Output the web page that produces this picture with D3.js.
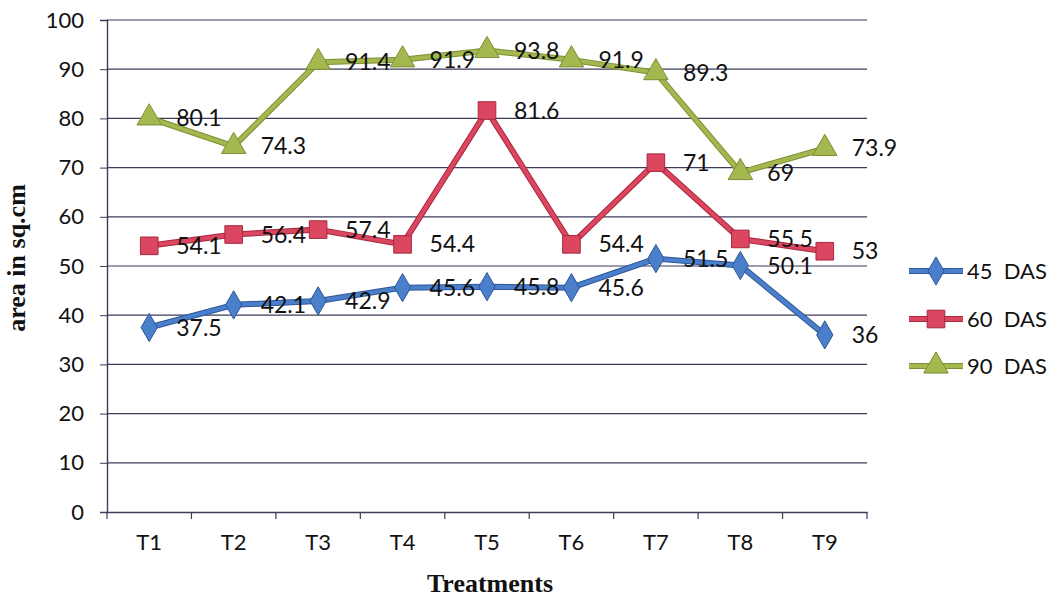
<!DOCTYPE html>
<html><head><meta charset="utf-8">
<script src="https://cdn.jsdelivr.net/npm/d3@7"></script>
<style>body{margin:0;background:#fff}svg{display:block}</style>
</head><body>
<script>
const categories = ["T1","T2","T3","T4","T5","T6","T7","T8","T9"];
const das45 = [37.5,42.1,42.9,45.6,45.8,45.6,51.5,50.1,36];
const das60 = [54.1,56.4,57.4,54.4,81.6,54.4,71,55.5,53];
const das90 = [80.1,74.3,91.4,91.9,93.8,91.9,89.3,69,73.9];
const seriesNames = ["45  DAS","60  DAS","90  DAS"];
const yTicks = [0,10,20,30,40,50,60,70,80,90,100];

const W=1057,H=602;
const svg=d3.select("body").append("svg").attr("width",W).attr("height",H);
const L=107,R=867,T=20,B=512;
const x=d3.scaleBand().domain(categories).range([L,R]);
const y=d3.scaleLinear().domain([0,100]).range([B,T]);
const font="Lato, 'Open Sans', sans-serif";
const serif="'Liberation Serif', 'DejaVu Serif', serif";

// gridlines
svg.append("g").selectAll("line").data(yTicks.filter(d=>d>0)).join("line")
  .attr("x1",L).attr("x2",R).attr("y1",d=>y(d)).attr("y2",d=>y(d))
  .attr("stroke","#3b3b5c").attr("stroke-width",1.2);

// y axis
const ya=svg.append("g").attr("transform",`translate(${L},0)`)
  .call(d3.axisLeft(y).tickValues(yTicks).tickSize(7).tickPadding(16));
ya.select(".domain").attr("stroke","#3b3b5c").attr("stroke-width",1.4);
ya.selectAll(".tick line").attr("stroke","#3b3b5c");
ya.selectAll("text").attr("font-family",font).attr("font-size",22).attr("fill","#111");

// x axis
const xa=svg.append("g").attr("transform",`translate(0,${B})`)
  .call(d3.axisBottom(x).tickSize(0).tickPadding(22));
xa.select(".domain").attr("stroke","#3b3b5c").attr("stroke-width",1.4);
xa.selectAll("text").attr("font-family",font).attr("font-size",22).attr("fill","#111");
const bounds=[...categories.map(c=>x(c)),R];
svg.append("g").selectAll("line").data(bounds).join("line")
  .attr("x1",d=>d).attr("x2",d=>d).attr("y1",B).attr("y2",B+7)
  .attr("stroke","#3b3b5c").attr("stroke-width",1.2);

const cx=c=>x(c)+x.bandwidth()/2;
const series=[
  {name:seriesNames[0],vals:das45,color:"#4A7FCB",dark:"#2F5597",shape:d3.symbolDiamond,size:230},
  {name:seriesNames[1],vals:das60,color:"#DB4660",dark:"#A8283E",shape:d3.symbolSquare,size:310},
  {name:seriesNames[2],vals:das90,color:"#A3B84E",dark:"#7E8F35",shape:d3.symbolTriangle,size:260}
];
const line=d3.line().x((d,i)=>cx(categories[i])).y(d=>y(d));

series.forEach(s=>{
  const g=svg.append("g");
  g.append("path").datum(s.vals).attr("d",line).attr("fill","none")
    .attr("stroke",s.dark).attr("stroke-width",6).attr("stroke-linejoin","round");
  g.append("path").datum(s.vals).attr("d",line).attr("fill","none")
    .attr("stroke",s.color).attr("stroke-width",4).attr("stroke-linejoin","round");
  g.selectAll("path.m").data(s.vals).join("path").attr("class","m")
    .attr("d",d3.symbol().type(s.shape).size(s.size))
    .attr("transform",(d,i)=>`translate(${cx(categories[i])},${y(d)})`)
    .attr("fill",s.color).attr("stroke",s.dark).attr("stroke-width",1);
  g.selectAll("text").data(s.vals).join("text")
    .attr("x",(d,i)=>cx(categories[i])+27).attr("y",d=>y(d)).attr("dy","0.35em")
    .attr("font-family",font).attr("font-size",23).attr("fill","#111")
    .text(d=>d);
});

// legend
const lg=svg.append("g");
series.forEach((s,i)=>{
  const ly=[271,319,366][i];
  lg.append("line").attr("x1",909).attr("x2",963).attr("y1",ly).attr("y2",ly)
    .attr("stroke",s.dark).attr("stroke-width",6);
  lg.append("line").attr("x1",909).attr("x2",963).attr("y1",ly).attr("y2",ly)
    .attr("stroke",s.color).attr("stroke-width",4);
  lg.append("path").attr("d",d3.symbol().type(s.shape).size(s.size))
    .attr("transform",`translate(936,${ly})`).attr("fill",s.color).attr("stroke",s.dark);
  lg.append("text").attr("x",967).attr("y",ly).attr("dy","0.35em")
    .attr("font-family",font).attr("font-size",22).attr("fill","#111")
    .style("white-space","pre").text(s.name);
});

// axis titles
svg.append("text").attr("transform","translate(25,258) rotate(-90)")
  .attr("text-anchor","middle").attr("font-family",serif)
  .attr("font-weight","bold").attr("font-size",26).attr("fill","#111").text("area in sq.cm");
svg.append("text").attr("x",490).attr("y",592).attr("text-anchor","middle")
  .attr("font-family",serif)
  .attr("font-weight","bold").attr("font-size",26).attr("fill","#111").text("Treatments");
</script>
</body></html>
